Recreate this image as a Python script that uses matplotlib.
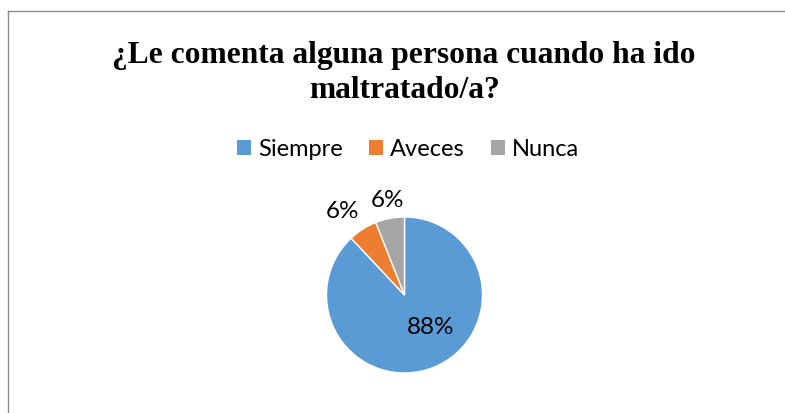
import matplotlib.pyplot as plt
from matplotlib.patches import Patch

categories = ['Siempre', 'Aveces', 'Nunca']
values = [88, 6, 6]
labels = ['88%', '6%', '6%']
colors = ['#5B9BD5', '#ED7D31', '#A5A5A5']

fig = plt.figure(figsize=(7.85, 4.14), dpi=100)

# chart border (left and top visible)
fig.add_artist(plt.Line2D([8/785, 8/785], [0, 1 - 12/414], color='#8c8c8c', lw=1))
fig.add_artist(plt.Line2D([8/785, 1], [1 - 12/414, 1 - 12/414], color='#8c8c8c', lw=1))

fig.text(404/785, 1 - 55/414, '¿Le comenta alguna persona cuando ha ido', ha='center', va='center',
         fontsize=22.7, fontweight='bold', family='Liberation Serif')
fig.text(404/785, 1 - 90/414, 'maltratado/a?', ha='center', va='center',
         fontsize=22.7, fontweight='bold', family='Liberation Serif')

r = 78
ax = fig.add_axes([(404.5 - r)/785, (414 - 296 - r)/414, 2*r/785, 2*r/414])
wedges, _ = ax.pie(values, colors=colors, startangle=90, counterclock=False,
                   wedgeprops=dict(edgecolor='white', linewidth=1))
ax.set_xlim(-1, 1)
ax.set_ylim(-1, 1)
ax.set_aspect('equal')

ax.text(0.33, -0.40, labels[0], ha='center', va='center', fontsize=17.5, family='Lato', clip_on=False)
ax.text(-0.79, 1.08, labels[1], ha='center', va='center', fontsize=17.5, family='Lato', clip_on=False)
ax.text(-0.22, 1.23, labels[2], ha='center', va='center', fontsize=17.5, family='Lato', clip_on=False)

handles = [Patch(facecolor=c, edgecolor='none') for c in colors]
fig.legend(handles, categories, loc='center', bbox_to_anchor=(408/785, 1 - 150/414), ncol=3,
           frameon=False, prop={'family': 'Lato', 'size': 17},
           handlelength=0.6, handleheight=0.6, handletextpad=0.3, columnspacing=1.1)

fig.savefig('out.png', dpi=100)
